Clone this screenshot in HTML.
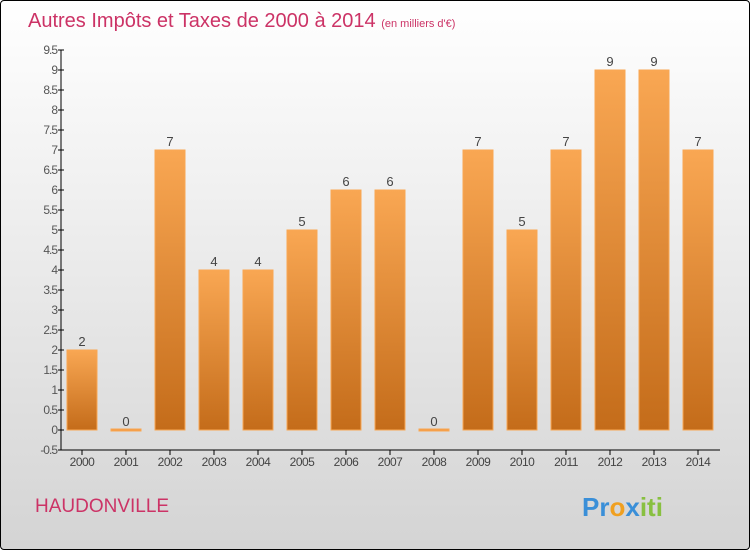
<!DOCTYPE html>
<html><head><meta charset="utf-8"><style>
html,body{margin:0;padding:0}
body{width:750px;height:550px;overflow:hidden;font-family:"Liberation Sans",sans-serif}
#wrap{position:absolute;left:0;top:0;width:748px;height:548px;border:1px solid #000;border-radius:4px;background:linear-gradient(#ffffff,#d4d4d4)}
</style></head><body>
<div id="wrap">
<svg id="chart" width="750" height="550" style="position:absolute;left:-1px;top:-1px">
<defs><linearGradient id="bg" x1="0" y1="0" x2="0" y2="1"><stop offset="0" stop-color="#f9a753"/><stop offset="1" stop-color="#c46c1a"/></linearGradient></defs>
<text x="28" y="27" font-size="20" fill="#cc3366">Autres Impôts et Taxes de 2000 à 2014 <tspan font-size="11">(en milliers d'€)</tspan></text>
<text x="35" y="512" font-size="19" fill="#cc3366">HAUDONVILLE</text>
<text x="582" y="516" font-size="26" font-weight="bold"><tspan fill="#3a8fd8">Pr</tspan><tspan fill="#f0a020">o</tspan><tspan fill="#3a8fd8">x</tspan><tspan fill="#88c040">iti</tspan></text>
<g id="plot"></g>
</svg></div>
<script>
const years=["2000","2001","2002","2003","2004","2005","2006","2007","2008","2009","2010","2011","2012","2013","2014"];
const values=[2,0,7,4,4,5,6,6,0,7,5,7,9,9,7];
const yTicks=["-0.5","0","0.5","1","1.5","2","2.5","3","3.5","4","4.5","5","5.5","6","6.5","7","7.5","8","8.5","9","9.5"];
const g=document.getElementById('plot');const ns='http://www.w3.org/2000/svg';
function y(v){return 430-v*40;}
function x(i){return 82+i*44;}
function mk(t,a,txt){const e=document.createElementNS(ns,t);for(const k in a)e.setAttribute(k,a[k]);if(txt!=null)e.textContent=txt;g.appendChild(e);return e;}
let ax=mk('line',{x1:61,y1:y(9.5),x2:61,y2:y(-0.5),stroke:'#000'});


let bx=mk('line',{x1:61,y1:y(-0.5),x2:720,y2:y(-0.5),stroke:'#000'});


yTicks.forEach(t=>{const v=parseFloat(t);
 mk('line',{x1:58,y1:y(v),x2:64,y2:y(v),stroke:'#000'});
 const l=mk('text',{x:57,y:y(v)+4,'font-size':12,fill:'#555','text-anchor':'end','letter-spacing':'-1'},t);
 
 });
years.forEach((yr,i)=>{const v=values[i];const h=Math.max(2,v*40);
 const r=mk('rect',{x:x(i)-15,y:y(v)-(v===0?1:0),width:30,height:h,fill:v===0?'#f49a40':'url(#bg)',stroke:'#f9a753','stroke-width':1});
 
 
 const vl=mk('text',{x:x(i),y:y(v)-4,'font-size':13,fill:'#444','text-anchor':'middle'},String(v));
 
 
 mk('line',{x1:x(i),y1:y(-0.5),x2:x(i),y2:y(-0.5)+5,stroke:'#000'});
 const xl=mk('text',{x:x(i),y:466,'font-size':12,fill:'#444','text-anchor':'middle','letter-spacing':'-0.5'},yr);
 
 });
</script>
</body></html>
